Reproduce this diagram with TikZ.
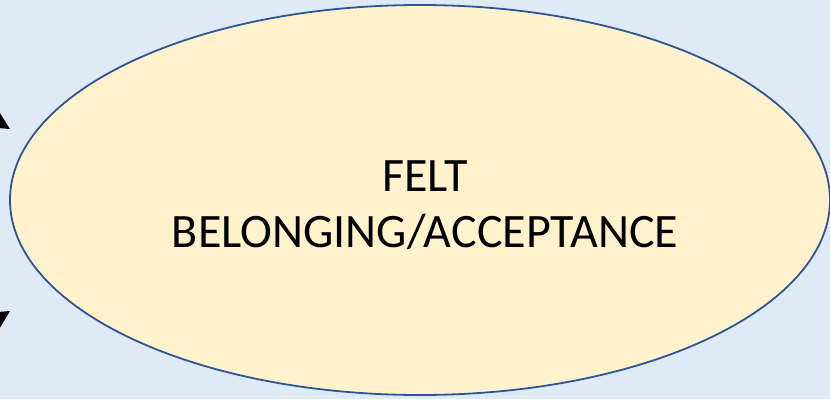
\documentclass[tikz,border=0pt]{standalone}
\usepackage{fontspec}
\setmainfont{Carlito}
\definecolor{bg}{HTML}{DEEBF7}
\definecolor{ellfill}{HTML}{FFF2CC}
\definecolor{ellline}{HTML}{2F5597}
\begin{document}
\begin{tikzpicture}[x=1pt,y=-1pt,
  head/.style={fill=black}]
\useasboundingbox (0,0) rectangle (830,399);
\fill[bg] (0,0) rectangle (830,399);
\clip (0,0) rectangle (830,399);
\draw[ellline,fill=ellfill,line width=1.8pt] (420,200) ellipse [x radius=410, y radius=195];
\node[align=center,font=\fontsize{48}{56}\selectfont] (t) at (425,205) {FELT\\BELONGING/ACCEPTANCE};
\fill[head] (-2,110) -- (10,129) -- (-2,128) -- cycle;
\fill[head] (-2,312) -- (10,311) -- (-2,331) -- cycle;
\end{tikzpicture}
\end{document}
